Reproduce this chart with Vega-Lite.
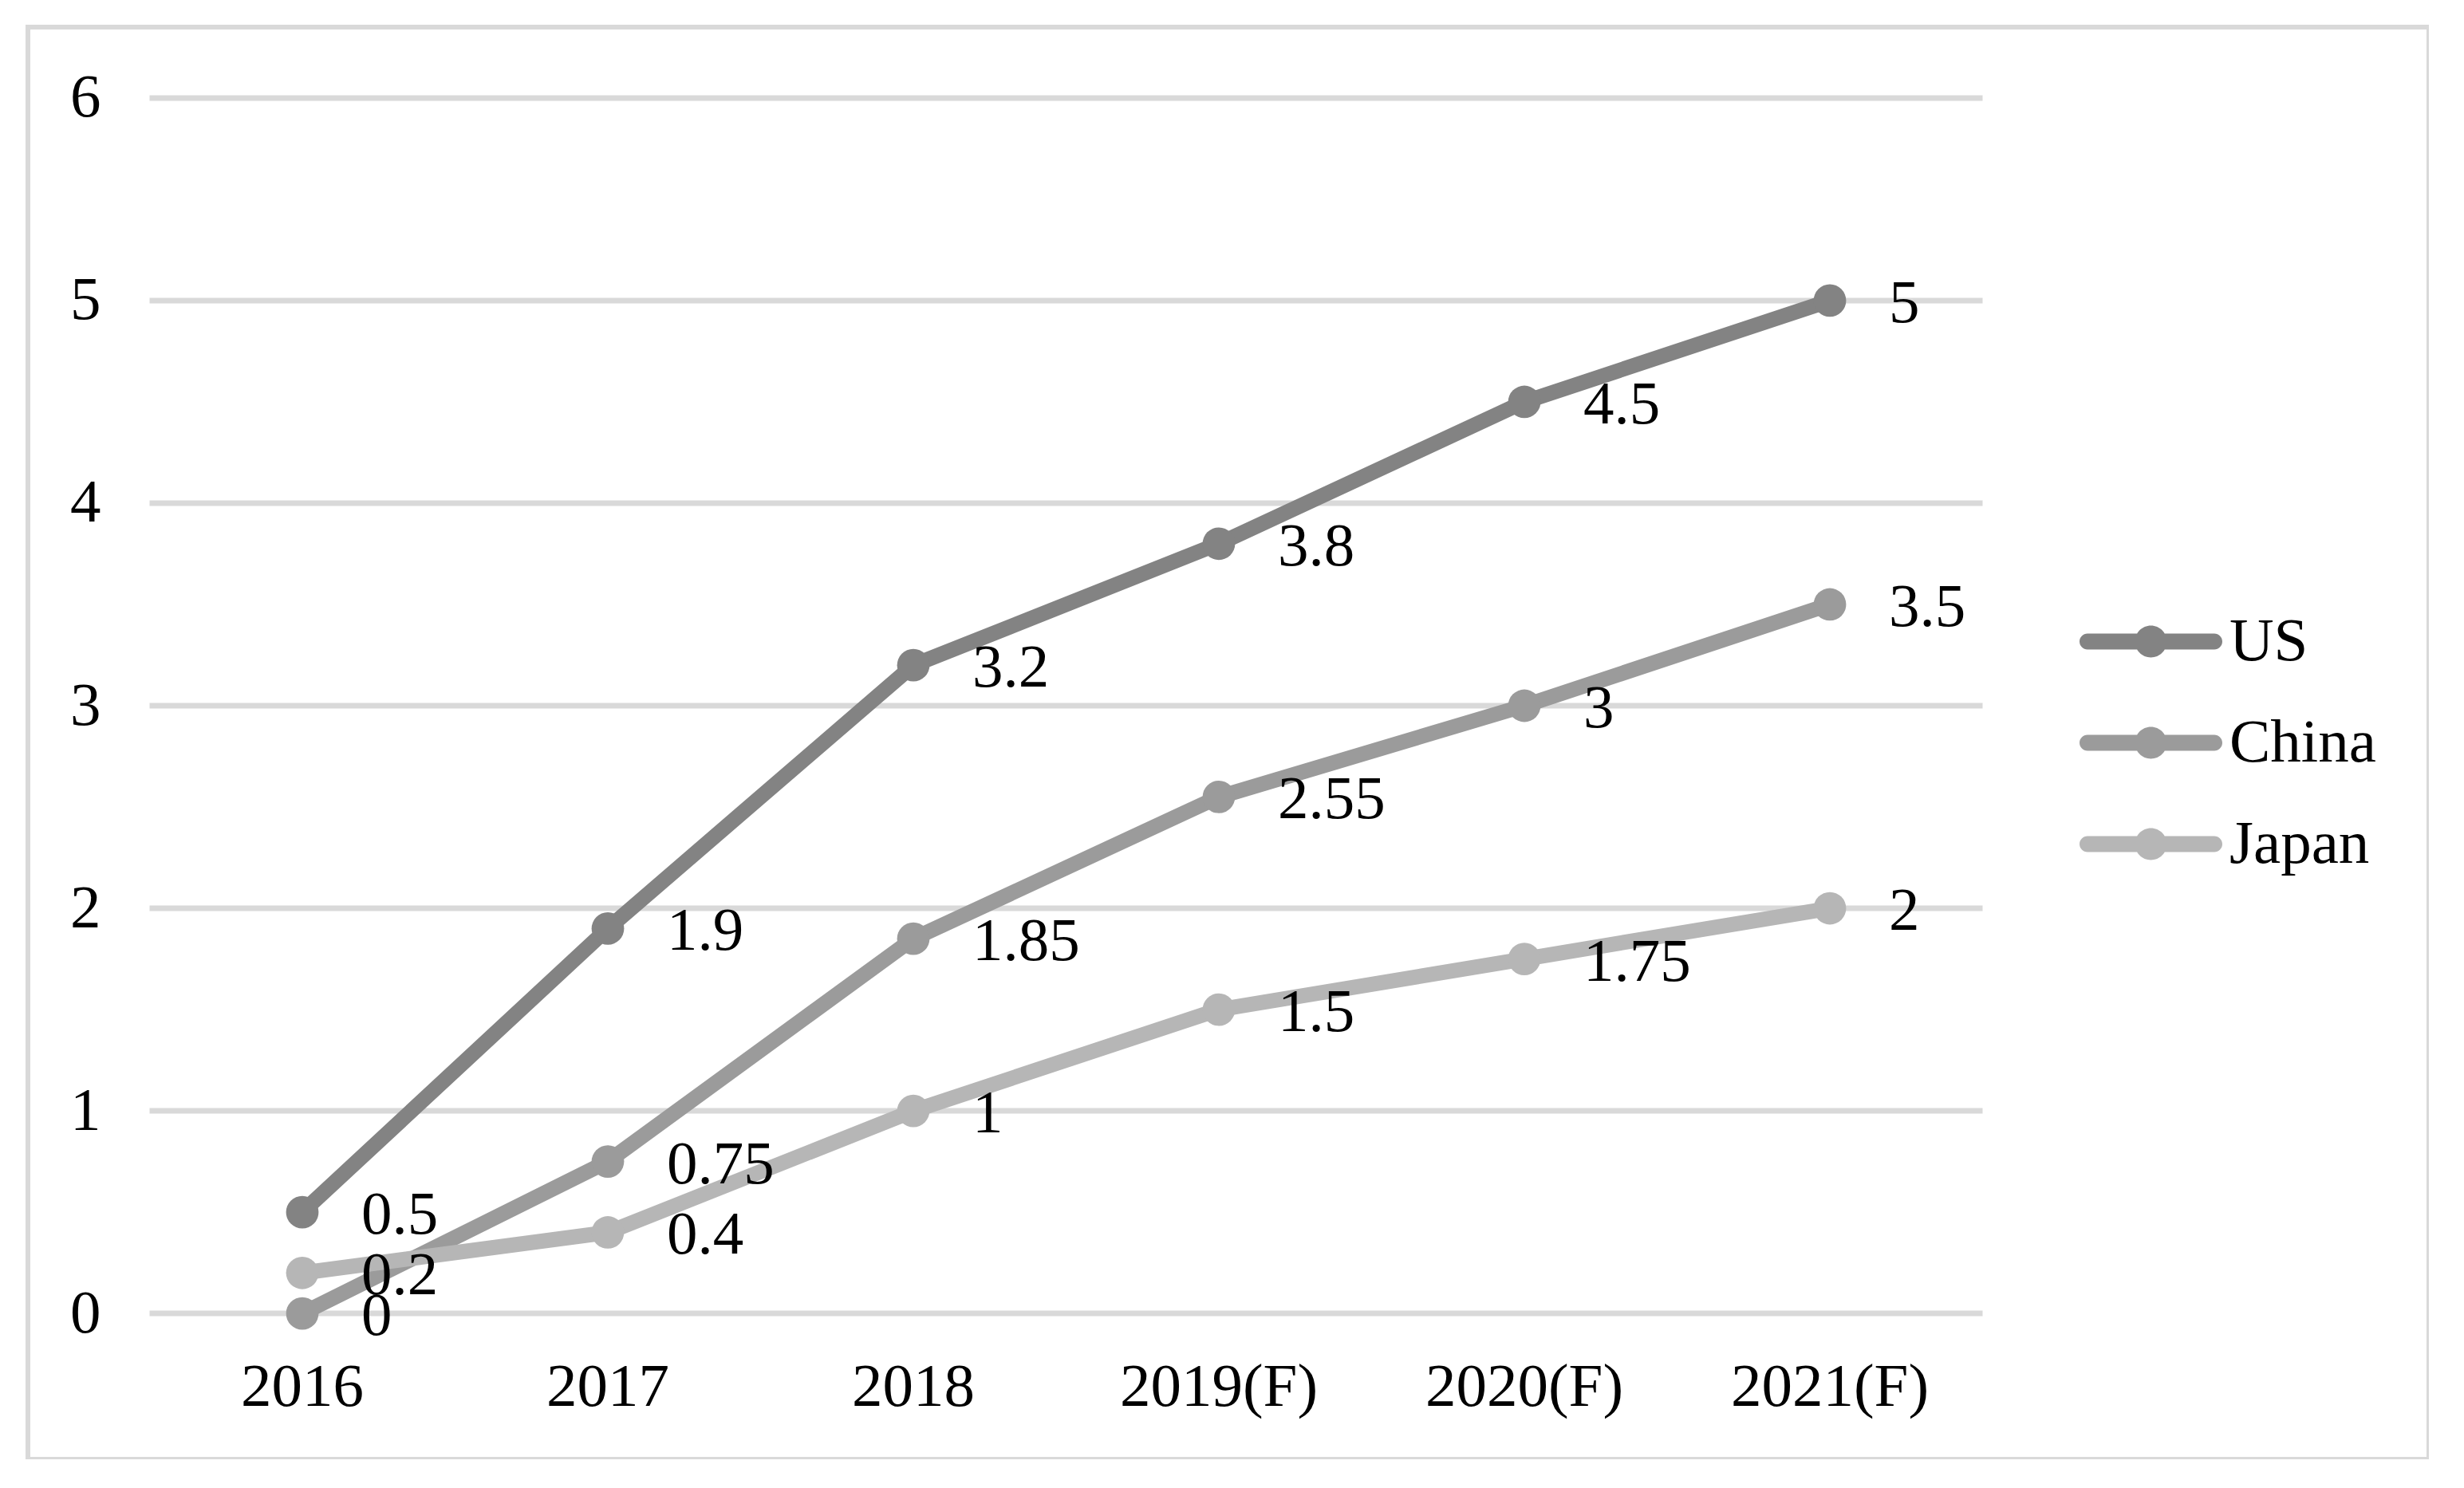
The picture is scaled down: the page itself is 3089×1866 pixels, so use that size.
{
  "$schema": "https://vega.github.io/schema/vega-lite/v6.json",
  "width": 3010,
  "height": 1796,
  "autosize": {"type": "none"},
  "padding": {"left": 35, "top": 34, "right": 0, "bottom": 0},
  "background": "white",
  "config": {
    "view": {"stroke": "#d9d9d9", "strokeWidth": 6},
    "font": "Liberation Serif",
    "legend": {
      "orient": "none", "legendX": 2572, "legendY": 707, "title": null,
      "symbolType": "M-0.888,-0.112L0.888,-0.112A0.112,0.112 0 0,1 0.888,0.112L-0.888,0.112A0.112,0.112 0 0,1 -0.888,-0.112Z M-0.223,0A0.223,0.223 0 1,1 0.223,0A0.223,0.223 0 1,1 -0.223,0Z",
      "symbolSize": 32041, "symbolStrokeWidth": 0, "symbolOpacity": 1,
      "labelFontSize": 77, "labelFont": "Liberation Serif", "labelColor": "black", "labelLimit": 0,
      "labelOffset": 9, "clipHeight": 127, "rowPadding": 0, "padding": 0
    }
  },
  "datasets": {
    "series": [
      {"year": "2016", "series": "US", "value": 0.5},
      {"year": "2017", "series": "US", "value": 1.9},
      {"year": "2018", "series": "US", "value": 3.2},
      {"year": "2019(F)", "series": "US", "value": 3.8},
      {"year": "2020(F)", "series": "US", "value": 4.5},
      {"year": "2021(F)", "series": "US", "value": 5},
      {"year": "2016", "series": "China", "value": 0},
      {"year": "2017", "series": "China", "value": 0.75},
      {"year": "2018", "series": "China", "value": 1.85},
      {"year": "2019(F)", "series": "China", "value": 2.55},
      {"year": "2020(F)", "series": "China", "value": 3},
      {"year": "2021(F)", "series": "China", "value": 3.5},
      {"year": "2016", "series": "Japan", "value": 0.2},
      {"year": "2017", "series": "Japan", "value": 0.4},
      {"year": "2018", "series": "Japan", "value": 1},
      {"year": "2019(F)", "series": "Japan", "value": 1.5},
      {"year": "2020(F)", "series": "Japan", "value": 1.75},
      {"year": "2021(F)", "series": "Japan", "value": 2}
    ],
    "grid": [{"v": 0}, {"v": 1}, {"v": 2}, {"v": 3}, {"v": 4}, {"v": 5}, {"v": 6}]
  },
  "layer": [
    {
      "data": {"name": "grid"},
      "mark": {"type": "rule", "color": "#d9d9d9", "strokeWidth": 7},
      "encoding": {
        "y": {
          "field": "v", "type": "quantitative", "title": null,
          "scale": {"domain": [-0.72, 6.35], "nice": false, "zero": false},
          "axis": {
            "values": [0, 1, 2, 3, 4, 5, 6], "format": "d", "grid": false, "domain": false, "ticks": false, "tickSize": 0,
            "labelPadding": 66, "offset": -157, "labelFontSize": 77, "labelFont": "Liberation Serif",
            "labelColor": "black", "title": null, "labelOverlap": false
          }
        },
        "x": {
          "datum": "2016", "type": "nominal", "bandPosition": 0, "title": null,
          "scale": {
            "type": "band",
            "domain": ["2016", "2017", "2018", "2019(F)", "2020(F)", "2021(F)"],
            "paddingInner": 0, "paddingOuter": 0.9295, "align": 0.2142
          },
          "axis": {
            "grid": false, "domain": false, "ticks": false, "tickSize": 0, "labelAngle": 0, "labelLimit": 0,
            "labelPadding": 54, "offset": -183, "labelFontSize": 77, "labelFont": "Liberation Serif",
            "labelColor": "black", "title": null, "labelOverlap": false
          }
        },
        "x2": {"datum": "2021(F)", "bandPosition": 1}
      }
    },
    {
      "data": {"name": "series"},
      "mark": {"type": "line", "strokeWidth": 19, "strokeCap": "round", "strokeJoin": "round"},
      "encoding": {
        "x": {"field": "year", "type": "nominal", "title": null},
        "y": {"field": "value", "type": "quantitative", "title": null},
        "color": {
          "field": "series", "type": "nominal", "title": null,
          "scale": {"domain": ["US", "China", "Japan"], "range": ["#838383", "#9b9b9b", "#b6b6b6"]},
          "legend": {
            "encode": {"symbols": {"update": {"fill": {"scale": "color", "field": "value"}, "stroke": {"value": "transparent"}, "strokeWidth": {"value": 0}, "opacity": {"value": 1}}}}
          }
        }
      }
    },
    {
      "data": {"name": "series"},
      "mark": {"type": "circle", "size": 1662, "opacity": 1},
      "encoding": {
        "x": {"field": "year", "type": "nominal", "title": null},
        "y": {"field": "value", "type": "quantitative", "title": null},
        "color": {
          "field": "series", "type": "nominal", "title": null,
          "scale": {"domain": ["US", "China", "Japan"], "range": ["#838383", "#9b9b9b", "#b6b6b6"]},
          "legend": {
            "encode": {"symbols": {"update": {"fill": {"scale": "color", "field": "value"}, "stroke": {"value": "transparent"}, "strokeWidth": {"value": 0}, "opacity": {"value": 1}}}}
          }
        }
      }
    },
    {
      "data": {"name": "series"},
      "mark": {"type": "text", "align": "left", "baseline": "middle", "dx": 74, "dy": 4, "fontSize": 77, "font": "Liberation Serif", "color": "black"},
      "encoding": {
        "x": {"field": "year", "type": "nominal", "title": null},
        "y": {"field": "value", "type": "quantitative", "title": null},
        "text": {"field": "value", "type": "nominal"}
      }
    }
  ]
}
